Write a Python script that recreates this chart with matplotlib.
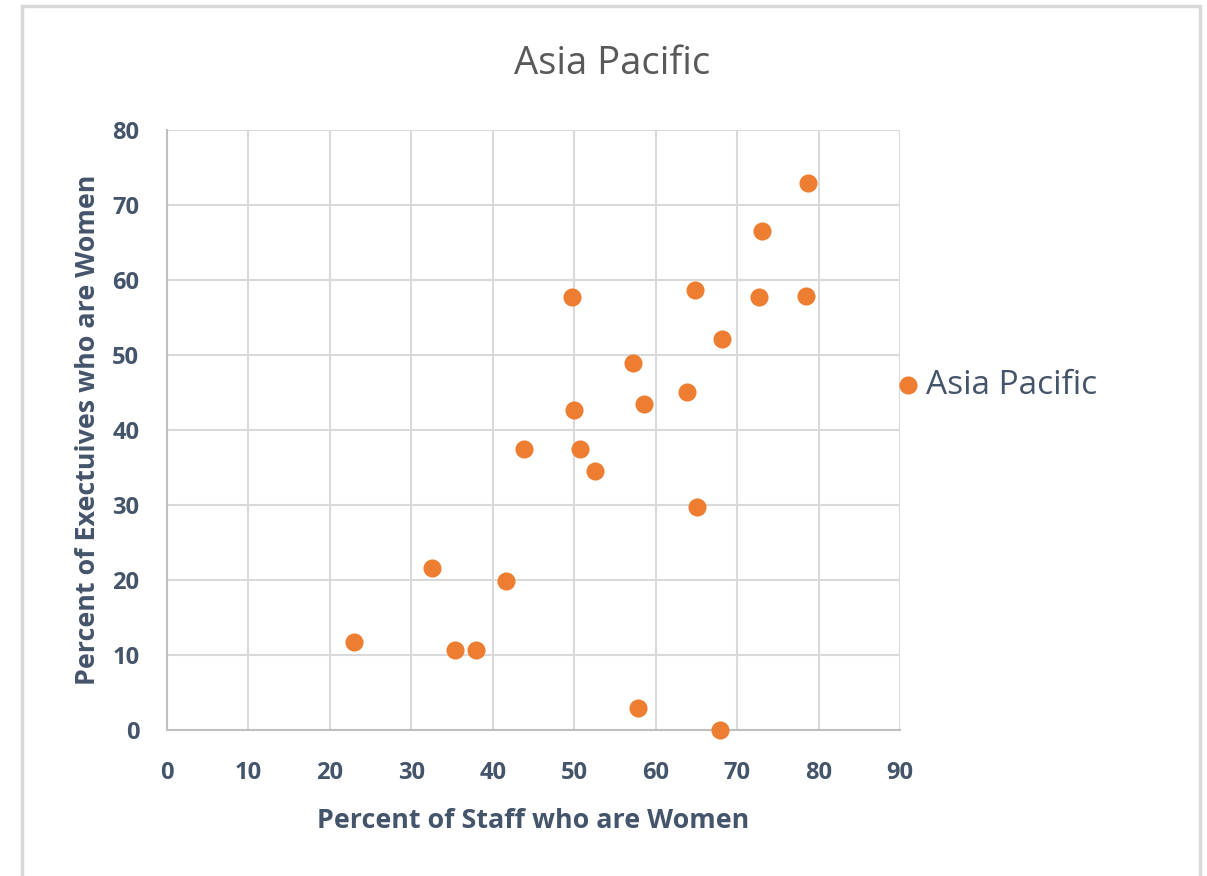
import matplotlib.pyplot as plt
from matplotlib.patches import Rectangle

# Data
staff_pct = [78.7, 73.1, 64.8, 49.7, 72.7, 78.5, 68.1, 57.2, 63.9, 58.6, 50.0,
             43.8, 50.7, 52.6, 65.1, 32.5, 41.6, 23.0, 35.4, 37.9, 57.8, 67.9]
exec_pct = [72.9, 66.5, 58.7, 57.7, 57.7, 57.9, 52.1, 48.9, 45.1, 43.5, 42.7,
            37.5, 37.5, 34.5, 29.7, 21.6, 19.9, 11.7, 10.7, 10.7, 2.9, 0.0]
x_ticks = list(range(0, 91, 10))
y_ticks = list(range(0, 81, 10))

orange = "#ED7D31"
text_col = "#44546A"
W, H = 1207, 876

plt.rcParams['font.family'] = ['Open Sans', 'DejaVu Sans']

fig = plt.figure(figsize=(W / 100, H / 100), dpi=100)
ax = fig.add_axes([167 / W, 1 - 730 / H, 733 / W, 600 / H])

ax.scatter(staff_pct, exec_pct, s=170, color=orange, zorder=3,
           clip_on=False, label="Asia Pacific", linewidths=0)

ax.set_xlim(0, 90)
ax.set_ylim(0, 80)
ax.set_xticks(x_ticks)
ax.set_yticks(y_ticks)
ax.grid(True, color="#D9D9D9", linewidth=1.5, zorder=0)
for s in ["top", "right"]:
    ax.spines[s].set_visible(False)
for s in ["left", "bottom"]:
    ax.spines[s].set_color("#BFBFBF")
    ax.spines[s].set_linewidth(1.5)
ax.tick_params(axis="x", length=0, labelsize=17, labelcolor=text_col, pad=22)
ax.tick_params(axis="y", length=0, labelsize=17, labelcolor=text_col, pad=20)
for lab in ax.get_xticklabels() + ax.get_yticklabels():
    lab.set_fontweight("bold")

ax.set_xlabel("Percent of Staff who are Women", fontsize=19.4, fontweight="bold",
              color=text_col, labelpad=17)
ax.set_ylabel("Percent of Exectuives who are Women", fontsize=19.4,
              fontweight="bold", color=text_col, labelpad=8)
fig.text(612 / W, 1 - 64 / H, "Asia Pacific", fontsize=27.5, color="#595959",
         ha="center", va="center")

leg = fig.legend(loc="center left", bbox_to_anchor=(894 / W, 1 - 385 / H),
                 frameon=False, fontsize=24, handletextpad=0.1,
                 handlelength=0.85, borderpad=0, borderaxespad=0)
for t in leg.get_texts():
    t.set_color(text_col)

# light gray frame around the chart
fig.patches.append(Rectangle((22 / W, -0.05), 1178 / W, 1.05 - 6 / H,
                             transform=fig.transFigure, fill=False,
                             edgecolor="#D9D9D9", linewidth=2.5))

fig.savefig("out.png", dpi=100)
